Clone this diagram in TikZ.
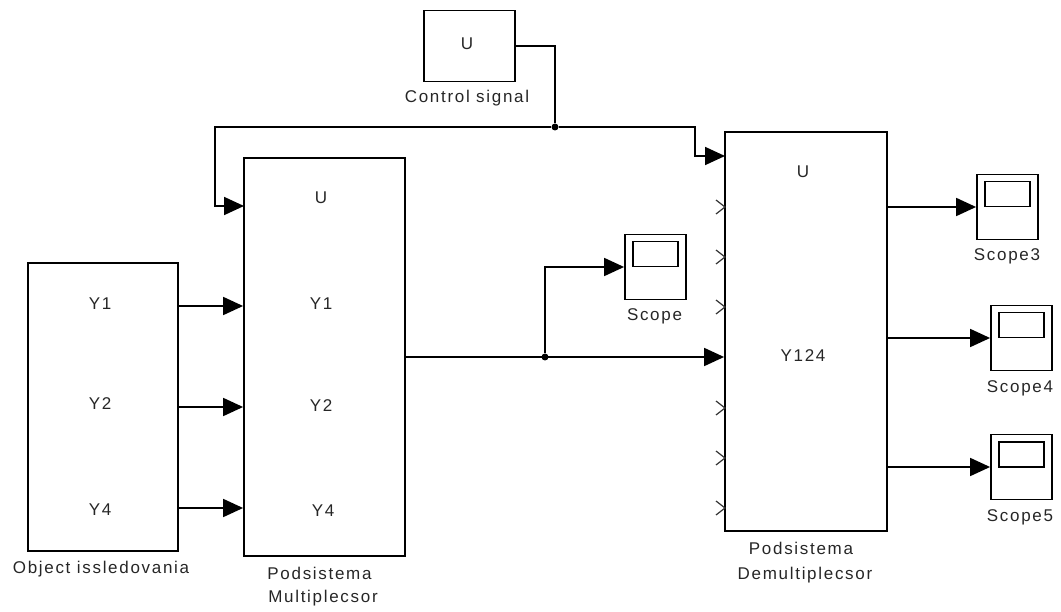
\documentclass[tikz,border=0pt]{standalone}
\usepackage{fontspec}
\setmainfont[LetterSpace=10]{Liberation Sans}
\usetikzlibrary{arrows.meta}

\begin{document}
\begin{tikzpicture}[x=1pt, y=-1pt]
	\tikzstyle{Block} = [draw=black, line width=1.8pt, inner sep=0pt]
	\tikzstyle{Scope} = [Block, minimum width=61pt, minimum height=65pt]
	\tikzstyle{ScopeScreen} = [Block, minimum width=45pt, minimum height=25pt]
	\tikzstyle{Txt} = [font=\fontsize{17}{19}\selectfont, text=black!85, inner sep=0pt, align=center]
	\tikzstyle{Wire} = [line width=1.8pt]
	\tikzstyle{Feed} = [Wire, -{Triangle[length=20pt, width=18pt]}]
	\tikzstyle{Dot} = [circle, fill=black, minimum size=7pt, inner sep=0pt]
	\useasboundingbox (0,0) rectangle (1061,612);

	\node[name=ctrl, Block, minimum width=91pt, minimum height=71pt] at (469.5,46) {};
	\node[name=obj, Block, minimum width=150pt, minimum height=288pt] at (103,407) {};
	\node[name=mux, Block, minimum width=161pt, minimum height=398pt] at (324.5,357) {};
	\node[name=demux, Block, minimum width=162pt, minimum height=399pt] at (806,331.5) {};

	\node[name=scope0, Scope] at (655.5,267) {};
	\node[name=scope3, Scope] at (1007.5,207) {};
	\node[name=scope4, Scope] at (1021.5,338) {};
	\node[name=scope5, Scope] at (1021.5,467) {};
	\foreach \s in {scope0, scope3, scope4, scope5}
		\node[name=\s s, ScopeScreen, yshift=-20.5pt] at (\s.north) {};

	\node[name=ctrlU, Txt] at (467,44) {U};
	\node[name=objY1, Txt] at (100,304) {Y1};
	\node[name=objY2, Txt] at (100,404) {Y2};
	\node[name=objY4, Txt] at (100,510) {Y4};
	\node[name=muxU, Txt] at (321,198) {U};
	\node[name=muxY1, Txt] at (321,304) {Y1};
	\node[name=muxY2, Txt] at (321,406) {Y2};
	\node[name=muxY4, Txt] at (323,511) {Y4};
	\node[name=demuxU, Txt] at (803,172) {U};
	\node[name=demuxY, Txt] at (803,356) {Y124};

	\node[name=ctrlL, Txt] at (467,98) {Control signal};
	\node[name=objL, Txt] at (101,569) {Object issledovania};
	\node[name=muxL, Txt] at (319.5,573) {Podsistema};
	\node[name=muxM, Txt] at (323,598) {Multiplecsor};
	\node[name=demuxL, Txt] at (801,548) {Podsistema};
	\node[name=demuxM, Txt] at (805,575) {Demultiplecsor};
	\node[name=scope0L, Txt] at (654.5,316) {Scope};
	\node[name=scope3L, Txt] at (1007,256) {Scope3};
	\node[name=scope4L, Txt] at (1020,388) {Scope4};
	\node[name=scope5L, Txt] at (1020,517) {Scope5};

	\node[name=dotU, Dot] at (555,127) {};
	\node[name=dotY, Dot] at (545,357) {};
	\coordinate (muxIn) at (244,206);
	\coordinate (demuxIn) at (725,156);
	\coordinate (muxOut) at (405,357);
	\coordinate (leftTurn) at (215,127);
	\coordinate (rightTurn) at (695,127);

	\draw[Wire] (ctrl.east) -| (dotU);
	\draw[Feed] (dotU) -- (leftTurn) -- (leftTurn |- muxIn) -- (muxIn);
	\draw[Feed] (dotU) -- (rightTurn) -- (rightTurn |- demuxIn) -- (demuxIn);
	\draw[Feed] (muxOut) -- (muxOut -| demux.west);
	\draw[Feed] (dotY) |- (scope0.west);
	\draw[Feed] (obj.east |- 0,306) -- (mux.west |- 0,306);
	\draw[Feed] (obj.east |- 0,407) -- (mux.west |- 0,407);
	\draw[Feed] (obj.east |- 0,508) -- (mux.west |- 0,508);
	\draw[Feed] (demux.east |- scope3.west) -- (scope3.west);
	\draw[Feed] (demux.east |- scope4.west) -- (scope4.west);
	\draw[Feed] (demux.east |- scope5.west) -- (scope5.west);

	\foreach \y in {207, 257, 307, 408, 458, 508}
		\draw[line width=1.2pt, black!80] (716,\y-7) -- (725,\y) -- (716,\y+7);
\end{tikzpicture}
\end{document}
